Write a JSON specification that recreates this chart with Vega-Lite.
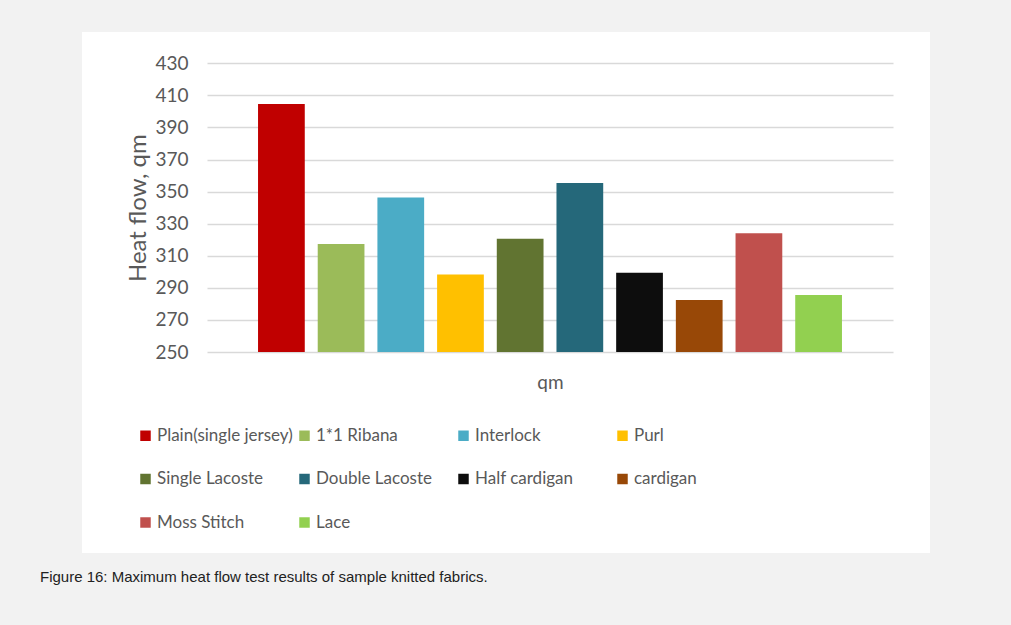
{
  "$schema": "https://vega.github.io/schema/vega-lite/v6.json",
  "autosize": {"type": "none"},
  "width": 848,
  "height": 521,
  "padding": {"left": 82, "top": 32, "right": 81, "bottom": 72},
  "background": "#f2f2f2",
  "title": {
    "text": "Figure 16: Maximum heat flow test results of sample knitted fabrics.",
    "orient": "bottom",
    "anchor": "start",
    "frame": "group",
    "offset": 17,
    "dx": -42,
    "font": "Liberation Sans",
    "fontSize": 15,
    "fontWeight": "normal",
    "color": "#222222"
  },
  "config": {
    "view": {"fill": "#ffffff", "stroke": null},
    "font": "Lato"
  },
  "data": {
    "values": [
      {"fabric": "Plain(single jersey)", "qm": 404.6},
      {"fabric": "1*1 Ribana", "qm": 317.3},
      {"fabric": "Interlock", "qm": 346.3},
      {"fabric": "Purl", "qm": 298.3},
      {"fabric": "Single Lacoste", "qm": 320.6},
      {"fabric": "Double Lacoste", "qm": 355.4},
      {"fabric": "Half cardigan", "qm": 299.4},
      {"fabric": "cardigan", "qm": 282.4},
      {"fabric": "Moss Stitch", "qm": 324},
      {"fabric": "Lace", "qm": 285.5}
    ]
  },
  "mark": {"type": "bar"},
  "encoding": {
    "x": {
      "field": "fabric",
      "type": "nominal",
      "sort": null,
      "scale": {"range": [125, 811], "paddingInner": 0.217, "paddingOuter": 0.855},
      "axis": {
        "orient": "bottom",
        "offset": -201,
        "labels": false,
        "ticks": false,
        "domain": false,
        "title": "qm",
        "titleFont": "Lato",
        "titleFontSize": 19,
        "titleFontWeight": "normal",
        "titleColor": "#595959",
        "titlePadding": 21
      }
    },
    "y": {
      "field": "qm",
      "type": "quantitative",
      "scale": {"domain": [250, 430], "range": [320, 31.3], "zero": false, "nice": false},
      "axis": {
        "values": [250, 270, 290, 310, 330, 350, 370, 390, 410, 430],
        "offset": -125,
        "domain": false,
        "ticks": false,
        "tickSize": 0,
        "grid": true,
        "gridColor": "#d9d9d9",
        "gridWidth": 1.3,
        "labelFont": "Lato",
        "labelFontSize": 19,
        "labelColor": "#595959",
        "labelPadding": 19,
        "title": "Heat flow, qm",
        "titleFont": "Lato",
        "titleFontSize": 24,
        "titleFontWeight": "normal",
        "titleColor": "#595959",
        "titlePadding": 4
      }
    },
    "y2": {"datum": 250},
    "color": {
      "field": "fabric",
      "type": "nominal",
      "sort": null,
      "scale": {
        "domain": ["Plain(single jersey)", "1*1 Ribana", "Interlock", "Purl", "Single Lacoste", "Double Lacoste", "Half cardigan", "cardigan", "Moss Stitch", "Lace"],
        "range": ["#c00000", "#9bbb59", "#4bacc6", "#ffc000", "#617431", "#25687a", "#0d0d0d", "#984807", "#c0504d", "#92d050"]
      },
      "legend": {
        "orient": "none",
        "legendX": 55,
        "legendY": 395,
        "direction": "horizontal",
        "columns": 4,
        "gridAlign": "all",
        "title": null,
        "padding": 0,
        "symbolType": "square",
        "symbolSize": 110,
        "symbolStrokeWidth": 0,
        "symbolOpacity": 1,
        "labelFont": "Lato",
        "labelFontSize": 17,
        "labelColor": "#595959",
        "labelOffset": 3,
        "labelLimit": 300,
        "rowPadding": 25.5,
        "columnPadding": 3
      }
    }
  }
}
